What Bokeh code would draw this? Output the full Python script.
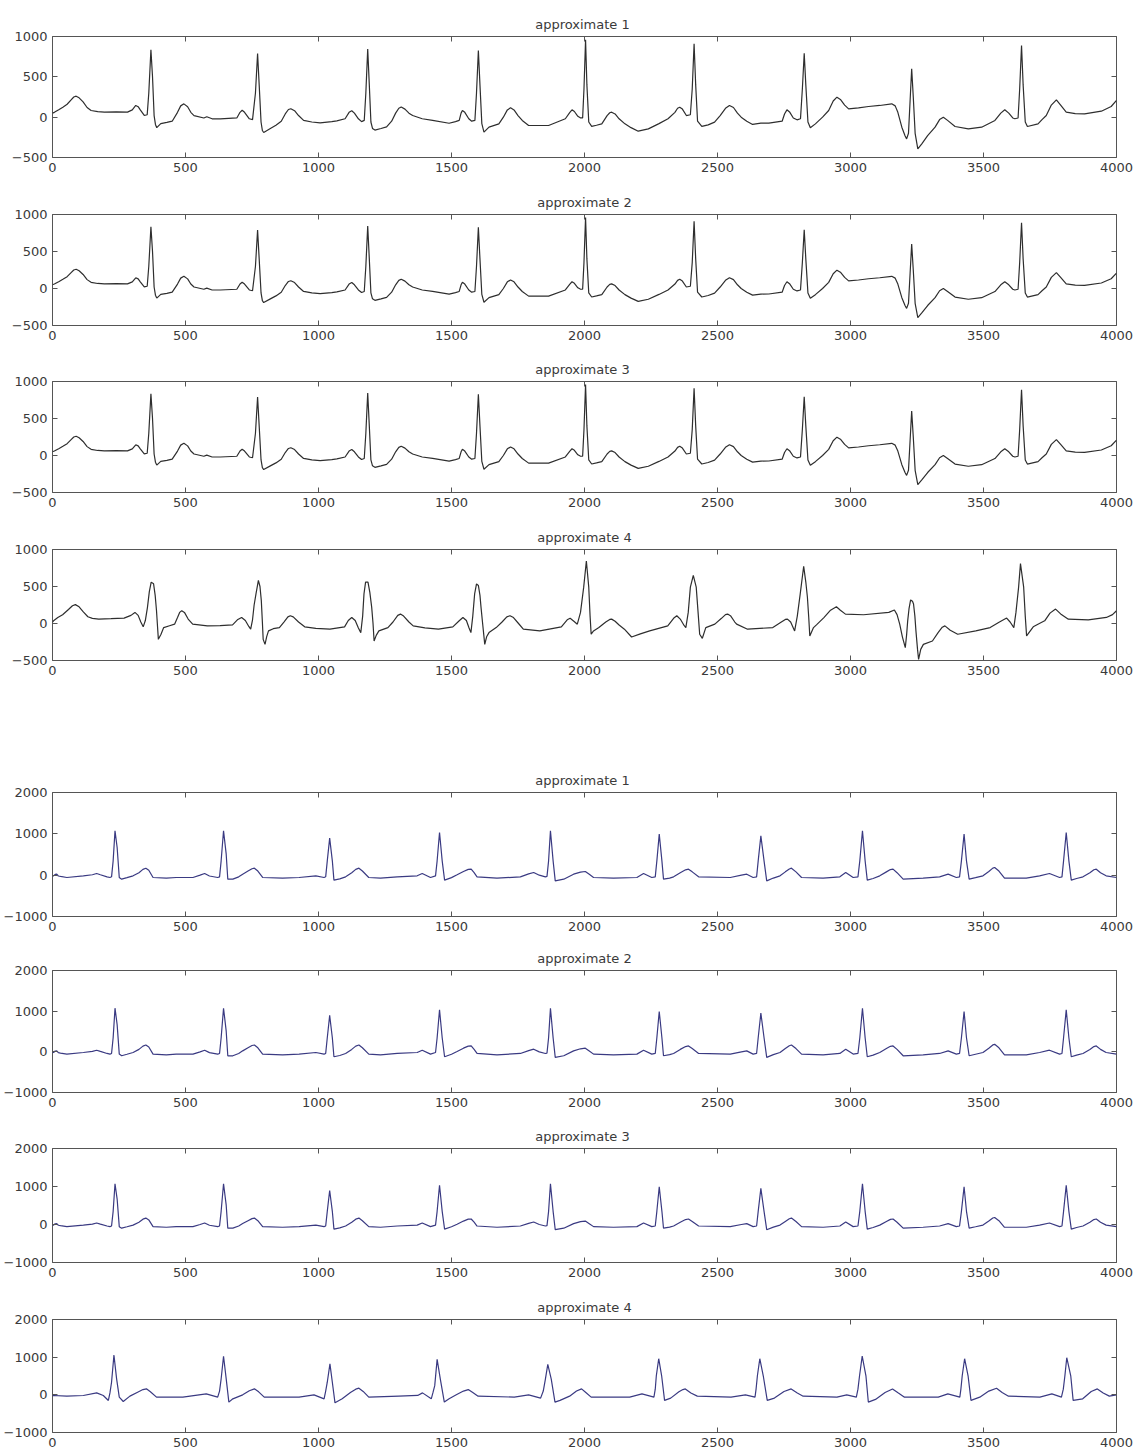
from bokeh.plotting import figure
from bokeh.models import Range1d, FixedTicker, LinearAxis, CustomLabelingPolicy
from bokeh.layouts import column
from bokeh.embed import file_html
from bokeh.resources import INLINE

# ---------------- data ----------------
titles = ["approximate  1", "approximate 2", "approximate  3", "approximate 4"]
x_ticks = [0, 500, 1000, 1500, 2000, 2500, 3000, 3500, 4000]
top_y_ticks = [-500, 0, 500, 1000]
bottom_y_ticks = [-1000, 0, 1000, 2000]

# top group, approximate 1-3: (sample index, amplitude)
top_pts = [(0, 50), (7, 60), (25, 95), (39, 124), (55, 160), (70, 215), (80, 250), (89, 260), (100, 240),
           (115, 190), (130, 120), (145, 83), (170, 68), (195, 62), (240, 65), (282, 62), (300, 90), (313, 145),
           (322, 130), (330, 90), (345, 21), (356, 30), (362, 300), (370, 835), (376, 500), (382, 20), (387, -90),
           (392, -130), (407, -80), (430, -65), (450, -50), (470, 60), (482, 140), (494, 165), (508, 130),
           (520, 60), (532, 20), (569, -10), (580, 5), (600, -20), (631, -20), (693, -10), (705, 60), (713, 85),
           (722, 60), (740, -20), (752, -30), (763, 300), (771, 790), (777, 400), (784, -60), (789, -165),
           (794, -190), (819, -140), (840, -100), (860, -50), (875, 40), (887, 95), (896, 105), (910, 80),
           (925, 20), (944, -40), (975, -60), (1006, -70), (1050, -55), (1069, -45), (1100, -20), (1115, 60),
           (1125, 80), (1135, 50), (1150, -20), (1162, -55), (1172, -40), (1178, 300), (1185, 845), (1191, 400),
           (1197, -60), (1203, -140), (1212, -160), (1235, -140), (1256, -120), (1275, -50), (1290, 50),
           (1302, 110), (1311, 125), (1325, 100), (1340, 50), (1354, 20), (1390, -20), (1429, -40), (1491, -75),
           (1515, -55), (1529, -40), (1536, 50), (1541, 83), (1550, 60), (1565, -20), (1576, -50), (1588, -40),
           (1594, 300), (1601, 826), (1607, 400), (1614, -80), (1622, -186), (1641, -124), (1678, -83),
           (1695, 0), (1710, 90), (1722, 116), (1735, 90), (1750, 20), (1766, -41), (1790, -103), (1865, -103),
           (1928, -20), (1945, 60), (1953, 91), (1962, 70), (1975, 10), (1984, -8), (1993, -10), (1998, 350),
           (2004, 960), (2009, 400), (2016, -60), (2027, -115), (2045, -100), (2065, -83), (2085, 20),
           (2095, 55), (2102, 62), (2115, 40), (2130, -20), (2152, -83), (2175, -130), (2202, -174),
           (2240, -145), (2280, -80), (2314, -20), (2340, 60), (2350, 110), (2358, 124), (2368, 100),
           (2383, 20), (2398, 30), (2405, 350), (2412, 910), (2418, 400), (2425, -50), (2441, -115),
           (2465, -95), (2489, -62), (2510, 20), (2530, 110), (2545, 145), (2560, 120), (2575, 50), (2589, 0),
           (2610, -50), (2632, -90), (2663, -75), (2693, -74), (2743, -50), (2752, 40), (2761, 91), (2772, 60),
           (2785, -10), (2799, -33), (2812, -20), (2819, 350), (2826, 793), (2832, 400), (2840, -60),
           (2849, -132), (2868, -83), (2895, 0), (2918, 83), (2935, 200), (2949, 248), (2962, 220), (2978, 150),
           (2993, 103), (3030, 115), (3068, 132), (3110, 145), (3155, 165), (3168, 140), (3178, 60),
           (3193, -124), (3205, -230), (3211, -269), (3218, -200), (3224, 200), (3230, 600), (3236, 250),
           (3243, -200), (3253, -393), (3268, -330), (3290, -230), (3318, -124), (3335, -30), (3349, 0),
           (3365, -40), (3393, -116), (3443, -145), (3493, -124), (3543, -41), (3565, 50), (3580, 91),
           (3595, 50), (3610, -10), (3618, -20), (3630, -10), (3636, 350), (3643, 888), (3649, 400),
           (3657, -60), (3665, -116), (3705, -83), (3720, -30), (3736, 20), (3755, 150), (3774, 215),
           (3790, 150), (3811, 62), (3845, 45), (3880, 41), (3943, 74), (3980, 132), (4000, 207)]

# top group, approximate 4
top4_pts = [(0, 20), (4, 36), (20, 80), (38, 118), (60, 190), (75, 240), (86, 255), (100, 225), (115, 160),
            (133, 91), (150, 70), (174, 59), (220, 65), (269, 73), (295, 110), (310, 150), (322, 110), (332, 20),
            (341, -45), (349, 40), (357, 218), (364, 430), (371, 559), (380, 536), (386, 380), (391, 173),
            (395, -50), (398, -214), (408, -145), (418, -55), (440, -30), (459, -9), (470, 80), (478, 150),
            (486, 173), (496, 150), (510, 60), (527, -9), (582, -32), (630, -30), (677, -18), (695, 50),
            (711, 82), (725, 40), (738, -40), (745, -77), (752, 50), (758, 250), (765, 400), (774, 582),
            (780, 500), (785, 309), (789, 20), (792, -214), (799, -282), (805, -180), (812, -100), (830, -70),
            (853, -55), (870, 20), (885, 90), (894, 105), (905, 90), (925, 20), (948, -45), (990, -65),
            (1043, -77), (1098, -45), (1112, 40), (1125, 82), (1138, 40), (1150, -60), (1159, -123), (1166, 100),
            (1171, 400), (1177, 559), (1186, 559), (1193, 420), (1200, 218), (1205, 0), (1209, -236),
            (1217, -160), (1227, -100), (1261, -55), (1280, 20), (1298, 110), (1308, 127), (1320, 100),
            (1340, 20), (1356, -32), (1400, -60), (1451, -77), (1505, -45), (1530, 40), (1543, 82), (1556, 40),
            (1566, -60), (1573, -123), (1580, 100), (1587, 400), (1594, 536), (1601, 514), (1607, 380),
            (1611, 218), (1617, 0), (1625, -282), (1632, -180), (1641, -123), (1668, -55), (1690, 20),
            (1708, 90), (1720, 105), (1733, 80), (1752, 0), (1770, -77), (1832, -100), (1913, -45), (1935, 50),
            (1946, 70), (1960, 30), (1973, -9), (1985, 150), (1997, 491), (2007, 845), (2016, 491), (2021, 100),
            (2025, -145), (2034, -100), (2054, -55), (2080, 20), (2095, 55), (2102, 59), (2115, 30), (2130, -20),
            (2150, -77), (2177, -182), (2210, -140), (2245, -100), (2313, -32), (2335, 70), (2347, 105),
            (2360, 60), (2375, -30), (2381, -55), (2390, 150), (2398, 491), (2409, 650), (2420, 491),
            (2427, 150), (2433, -145), (2443, -200), (2456, -55), (2490, -9), (2515, 70), (2530, 120),
            (2538, 127), (2550, 100), (2565, 20), (2572, -9), (2613, -77), (2708, -55), (2740, 20), (2755, 55),
            (2763, 59), (2775, 20), (2790, -100), (2800, 100), (2811, 400), (2824, 773), (2832, 560),
            (2838, 355), (2843, 80), (2847, -168), (2861, -55), (2872, -18), (2900, 80), (2925, 180),
            (2947, 227), (2962, 180), (2981, 127), (3049, 118), (3144, 150), (3165, 182), (3175, 120),
            (3185, -9), (3195, -180), (3206, -327), (3211, -150), (3215, 36), (3220, 200), (3226, 318),
            (3233, 300), (3237, 264), (3242, 100), (3246, -100), (3252, -350), (3256, -486), (3264, -350),
            (3274, -282), (3308, -236), (3330, -120), (3345, -50), (3355, -32), (3375, -90), (3403, -145),
            (3471, -100), (3525, -55), (3560, 20), (3587, 73), (3600, 20), (3614, -55), (3622, 150),
            (3632, 491), (3639, 809), (3645, 650), (3651, 491), (3657, 100), (3662, -168), (3687, -45),
            (3710, 0), (3730, 36), (3750, 140), (3771, 195), (3790, 130), (3819, 59), (3894, 50), (3962, 82),
            (3985, 120), (4000, 173)]

# bottom group, approximate 1-3
bot_pts = [(0, -20), (4, -16), (10, 20), (16, 24), (22, -20), (30, -30), (54, -56), (116, -16), (150, 10),
           (166, 40), (180, 10), (205, -40), (216, -56), (222, -40), (228, 347), (235, 1073), (243, 669),
           (251, -56), (260, -97), (280, -60), (303, -16), (325, 60), (340, 140), (351, 169), (362, 120),
           (378, -56), (428, -73), (465, -56), (528, -56), (555, 0), (572, 40), (590, -20), (621, -56),
           (628, -40), (634, 347), (643, 1073), (653, 508), (659, -97), (678, -97), (700, -40), (715, 24),
           (735, 100), (750, 155), (759, 169), (772, 100), (790, -56), (865, -73), (927, -56), (990, -16),
           (1021, -56), (1027, -40), (1033, 347), (1042, 895), (1052, 347), (1058, -121), (1080, -90),
           (1102, -40), (1125, 60), (1140, 140), (1152, 169), (1165, 100), (1189, -56), (1233, -73),
           (1296, -40), (1371, -16), (1390, 40), (1421, -56), (1440, -16), (1446, 347), (1455, 1032),
           (1465, 347), (1474, -121), (1500, -60), (1521, 8), (1545, 90), (1563, 140), (1574, 145), (1585, 60),
           (1596, -40), (1671, -73), (1759, -40), (1790, 30), (1809, 65), (1830, 0), (1853, -40), (1859, -30),
           (1865, 347), (1872, 1073), (1882, 347), (1890, -137), (1922, -97), (1959, 24), (1985, 75),
           (2003, 89), (2018, 20), (2034, -56), (2109, -73), (2197, -56), (2222, 40), (2253, -56), (2266, -40),
           (2272, 347), (2281, 992), (2291, 347), (2297, -97), (2320, -70), (2335, -40), (2360, 60),
           (2380, 130), (2391, 145), (2405, 80), (2429, -40), (2548, -56), (2590, 0), (2610, 24), (2634, -56),
           (2647, -40), (2653, 347), (2663, 952), (2675, 347), (2685, -137), (2710, -70), (2735, -16),
           (2755, 80), (2770, 150), (2778, 169), (2795, 80), (2816, -56), (2897, -73), (2960, -40), (2982, 65),
           (3010, -56), (3028, -40), (3035, 347), (3045, 1073), (3055, 347), (3063, -121), (3085, -80),
           (3110, -16), (3135, 80), (3150, 135), (3160, 145), (3175, 60), (3198, -97), (3273, -73), (3335, -40),
           (3367, 24), (3398, -56), (3410, -40), (3417, 347), (3427, 992), (3436, 347), (3446, -97),
           (3470, -60), (3498, -16), (3520, 90), (3535, 170), (3542, 185), (3558, 100), (3579, -73),
           (3661, -73), (3711, -16), (3748, 40), (3786, -56), (3795, -40), (3801, 347), (3811, 1032),
           (3821, 347), (3830, -121), (3850, -80), (3874, -40), (3900, 60), (3915, 130), (3924, 145),
           (3940, 60), (3961, -16), (4000, -56)]

# bottom group, approximate 4
bot4_pts = [(0, -20), (4, -18), (54, -35), (116, -18), (166, 53), (191, -18), (210, -150), (216, 50),
            (222, 335), (231, 1059), (241, 424), (251, -62), (266, -177), (291, -35), (320, 70), (340, 140),
            (353, 159), (368, 80), (391, -62), (490, -62), (578, 26), (621, -62), (628, 100), (634, 424),
            (643, 1024), (653, 424), (663, -194), (678, -106), (715, 0), (740, 110), (759, 159), (775, 80),
            (796, -62), (927, -62), (983, 0), (1021, -106), (1027, 100), (1033, 335), (1043, 821), (1052, 335),
            (1062, -212), (1089, -106), (1120, 60), (1140, 150), (1152, 177), (1168, 90), (1189, -62),
            (1302, -35), (1373, -17), (1391, 52), (1424, -105), (1430, 50), (1437, 244), (1446, 942),
            (1458, 418), (1473, -192), (1491, -105), (1518, 0), (1545, 100), (1563, 139), (1580, 60),
            (1600, -35), (1736, -61), (1790, 0), (1835, -87), (1845, 100), (1853, 418), (1862, 811),
            (1875, 418), (1889, -192), (1908, -148), (1944, -35), (1970, 100), (1989, 157), (2005, 60),
            (2025, -61), (2170, -61), (2216, 26), (2261, -61), (2266, 150), (2270, 506), (2279, 959),
            (2290, 506), (2301, -148), (2324, -87), (2355, 80), (2370, 140), (2379, 157), (2400, 50),
            (2424, -35), (2551, -61), (2605, 0), (2641, -61), (2645, 150), (2650, 506), (2659, 959),
            (2672, 506), (2687, -148), (2714, -87), (2750, 90), (2777, 157), (2800, 50), (2822, -35),
            (2949, -61), (2986, 0), (3022, -61), (3028, 150), (3034, 506), (3044, 1029), (3058, 506),
            (3067, -192), (3094, -122), (3130, 60), (3158, 157), (3180, 50), (3203, -61), (3330, -61),
            (3366, 26), (3411, -61), (3415, 150), (3420, 506), (3429, 959), (3442, 506), (3453, -148),
            (3486, -61), (3520, 100), (3549, 174), (3570, 60), (3594, -35), (3712, -61), (3757, 26),
            (3793, -61), (3800, 150), (3806, 506), (3813, 985), (3828, 506), (3837, -148), (3873, -105),
            (3905, 90), (3928, 157), (3950, 50), (3973, -35), (4000, 0)]

# ---------------- styling ----------------
FONT = "DejaVu Sans"
TEXT_COLOR = "#3a3a3a"
FRAME_COLOR = "#555555"
TOP_LINE = "#2e2e2e"
BOT_LINE = "#3a3a82"

HIDE_LABELS = "for (const i of Array.from(indices)) { indices.unset(i) }"


def style_axis(ax, ticks, show_labels):
    ax.ticker = FixedTicker(ticks=ticks)
    ax.major_tick_in = 5
    ax.major_tick_out = 0
    ax.major_tick_line_color = FRAME_COLOR
    ax.minor_tick_line_color = None
    ax.axis_line_color = None
    ax.major_label_text_font = FONT
    ax.major_label_text_color = TEXT_COLOR
    if show_labels:
        ax.major_label_text_font_size = "13px"
        ax.major_label_standoff = 5
    else:
        # mirrored tick marks only (MATLAB style box ticks), no labels and no space taken
        ax.major_label_text_font_size = "0px"
        ax.major_label_standoff = 0
        ax.major_label_policy = CustomLabelingPolicy(code=HIDE_LABELS)


def make_fig(pts, title, y_lo, y_hi, yticks, color, bl, fw, br, bt, fh, bb):
    xs = [pt[0] for pt in pts]
    ys = [pt[1] for pt in pts]
    p = figure(width=bl + fw + br, height=bt + fh + bb,
               x_range=Range1d(0, 4000), y_range=Range1d(y_lo, y_hi),
               output_backend="svg", toolbar_location=None,
               min_border_left=bl, min_border_right=br,
               min_border_top=bt, min_border_bottom=bb)
    p.title.text = title
    p.title.align = "center"
    p.title.text_font = FONT
    p.title.text_font_size = "13px"
    p.title.text_font_style = "normal"
    p.title.text_color = TEXT_COLOR
    p.title.standoff = 10
    p.grid.visible = False
    p.outline_line_color = FRAME_COLOR
    p.outline_line_width = 1
    p.background_fill_color = "white"
    p.border_fill_color = "white"
    style_axis(p.xaxis[0], x_ticks, True)
    style_axis(p.yaxis[0], yticks, True)
    top = LinearAxis()
    style_axis(top, x_ticks, False)
    p.add_layout(top, "above")
    right = LinearAxis()
    style_axis(right, yticks, False)
    p.add_layout(right, "right")
    p.line(xs, ys, line_color=color, line_width=1.2)
    return p


top_series = [top_pts, top_pts, top_pts, top4_pts]
bot_series = [bot_pts, bot_pts, bot_pts, bot4_pts]

# (top border, frame height, bottom border) per panel
top_geom = [(36, 121, 29), (28, 111, 28), (28, 111, 29), (28, 111, 104)]
bot_geom = [(28, 124, 26), (28, 122, 28), (28, 114, 29), (28, 113, 20)]

figs = []
for pts, t, (bt, fh, bb) in zip(top_series, titles, top_geom):
    figs.append(make_fig(pts, t, -500, 1000, top_y_ticks, TOP_LINE,
                         48, 1069, 18, bt, fh, bb))
for pts, t, (bt, fh, bb) in zip(bot_series, titles, bot_geom):
    figs.append(make_fig(pts, t, -1000, 2000, bottom_y_ticks, BOT_LINE,
                         52, 1064, 19, bt, fh, bb))

layout = column(*figs, spacing=0)
open("out.html", "w").write(file_html(layout, INLINE))
